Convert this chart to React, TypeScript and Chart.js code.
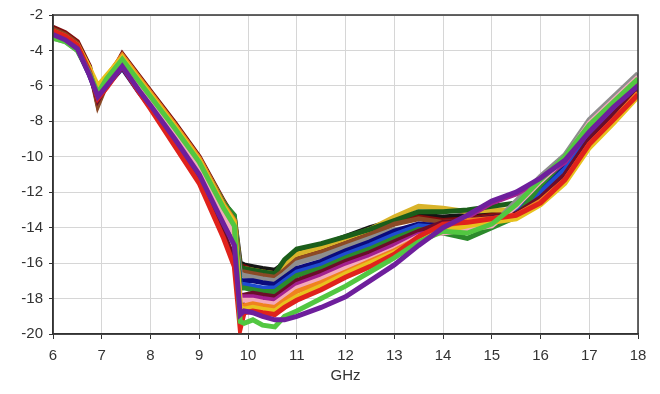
import React, { useEffect, useRef } from "react";
import { Chart, registerables } from "chart.js";

Chart.register(...registerables);

const freqGHz = [6, 6.25, 6.5, 6.75, 6.92, 7.1, 7.42, 7.75, 8, 8.5, 9, 9.5, 9.72, 9.84, 9.92, 10.1, 10.3, 10.55, 10.75, 11, 11.5, 12, 12.5, 13, 13.5, 14, 14.5, 15, 15.5, 16, 16.5, 17, 17.5, 18];

const xTicks = [6, 7, 8, 9, 10, 11, 12, 13, 14, 15, 16, 17, 18];
const yTicks = [-2, -4, -6, -8, -10, -12, -14, -16, -18, -20];
const xTitle = "GHz";

const sBlack = [-2.8, -3.1, -3.6, -5.1, -6.4, -5.7, -4.3, -5.5, -6.4, -8.2, -10.1, -12.6, -13.4, -16.0, -16.1, -16.2, -16.3, -16.4, -16.0, -15.4, -15.0, -14.5, -14.0, -13.6, -13.3, -13.4, -13.3, -13.1, -13.0, -12.2, -10.9, -8.9, -7.5, -6.2];
const sDarkGreen = [-3.0, -3.3, -3.8, -5.2, -6.3, -5.6, -4.4, -5.6, -6.5, -8.3, -10.2, -12.7, -13.8, -16.2, -16.3, -16.4, -16.5, -16.6, -15.8, -15.2, -14.9, -14.5, -14.1, -13.6, -13.1, -13.1, -13.0, -12.8, -12.6, -11.7, -10.4, -8.6, -7.2, -5.9];
const sDarkRed = [-2.7, -3.0, -3.5, -4.9, -7.0, -5.8, -4.2, -5.4, -6.3, -8.1, -10.0, -12.5, -13.5, -16.4, -16.2, -16.4, -16.5, -16.6, -16.2, -15.6, -15.2, -14.7, -14.2, -13.7, -13.4, -13.6, -13.5, -13.3, -13.1, -12.4, -11.1, -9.1, -7.7, -6.3];
const sBrown = [-2.8, -3.1, -3.6, -5.0, -7.1, -5.9, -4.3, -5.5, -6.4, -8.2, -10.1, -12.7, -13.6, -16.5, -16.5, -16.6, -16.7, -16.8, -16.4, -15.8, -15.4, -14.9, -14.4, -13.8, -13.5, -13.7, -13.6, -13.4, -13.2, -12.5, -11.2, -9.2, -7.8, -6.4];
const sGray = [-3.3, -3.5, -4.0, -5.3, -6.4, -5.6, -4.5, -5.7, -6.6, -8.4, -10.3, -12.8, -13.7, -16.6, -16.7, -16.8, -16.9, -17.0, -16.6, -16.0, -15.6, -15.1, -14.6, -14.1, -14.0, -14.3, -14.2, -13.9, -12.5, -11.1, -9.9, -7.9, -6.6, -5.3];
const sNavy = [-3.1, -3.4, -3.9, -5.4, -6.6, -6.0, -5.0, -6.3, -7.2, -9.1, -11.0, -13.6, -14.8, -17.0, -17.0, -17.0, -17.1, -17.2, -16.8, -16.3, -15.9, -15.3, -14.8, -14.2, -13.8, -13.9, -13.8, -13.6, -13.0, -11.9, -10.6, -8.7, -7.3, -6.0];
const sBlue = [-3.0, -3.3, -3.8, -5.2, -6.5, -5.8, -4.6, -5.8, -6.8, -8.6, -10.5, -13.0, -14.0, -17.2, -17.2, -17.3, -17.4, -17.4, -17.0, -16.5, -16.1, -15.5, -15.0, -14.4, -13.9, -14.0, -13.9, -13.7, -13.1, -12.0, -10.7, -8.8, -7.4, -6.1];
const sGreen = [-3.2, -3.4, -3.9, -5.2, -6.3, -5.5, -4.4, -5.6, -6.5, -8.3, -10.2, -12.6, -13.3, -17.4, -17.4, -17.5, -17.6, -17.6, -17.2, -16.7, -16.3, -15.7, -15.2, -14.6, -14.1, -14.3, -14.6, -14.0, -13.4, -11.6, -10.2, -8.4, -7.0, -5.8];
const sMaroon = [-2.9, -3.2, -3.7, -5.2, -6.8, -6.0, -4.8, -6.2, -7.2, -9.2, -11.3, -14.3, -15.8, -18.8, -17.8, -17.7, -17.8, -17.9, -17.5, -17.0, -16.5, -15.9, -15.4, -14.8, -14.2, -13.7, -13.6, -13.4, -13.2, -12.3, -11.0, -9.0, -7.6, -6.2];
const sMagenta = [-3.0, -3.3, -3.8, -5.2, -6.5, -5.8, -4.6, -5.9, -6.8, -8.7, -10.6, -13.2, -14.3, -17.9, -17.9, -17.9, -18.0, -18.1, -17.7, -17.2, -16.7, -16.1, -15.6, -15.0, -14.4, -14.1, -13.4, -12.6, -12.1, -11.3, -10.3, -8.5, -7.1, -5.9];
const sPink = [-3.1, -3.4, -3.9, -5.2, -6.6, -5.8, -4.7, -6.0, -6.9, -8.8, -10.7, -13.3, -14.4, -18.1, -18.1, -18.1, -18.2, -18.3, -17.9, -17.4, -16.9, -16.3, -15.8, -15.2, -14.5, -14.3, -14.1, -13.9, -12.8, -11.4, -10.1, -8.1, -6.8, -5.5];
const sOrange = [-2.9, -3.2, -3.7, -5.1, -6.2, -5.5, -4.3, -5.5, -6.4, -8.2, -10.1, -12.7, -13.6, -18.4, -18.4, -18.3, -18.4, -18.5, -18.1, -17.6, -17.1, -16.5, -15.9, -15.3, -14.6, -14.0, -13.6, -13.5, -13.3, -12.5, -11.3, -9.3, -7.9, -6.4];
const sYellow = [-3.0, -3.3, -3.7, -5.0, -6.0, -5.4, -4.4, -5.6, -6.5, -8.3, -10.2, -12.8, -13.7, -18.5, -18.6, -18.5, -18.6, -18.7, -18.3, -17.9, -17.3, -16.6, -16.0, -15.4, -14.7, -14.2, -13.9, -13.7, -13.5, -12.7, -11.5, -9.5, -8.1, -6.6];
const sRed = [-2.9, -3.2, -3.7, -5.2, -6.7, -6.1, -4.9, -6.3, -7.3, -9.4, -11.5, -14.6, -16.2, -19.7, -18.8, -18.7, -18.8, -18.9, -18.5, -18.1, -17.5, -16.8, -16.2, -15.5, -14.5, -13.8, -13.7, -13.5, -13.3, -12.6, -11.3, -9.3, -7.9, -6.5];
const sLightGreen = [-3.3, -3.5, -4.0, -5.3, -6.4, -5.6, -4.5, -5.7, -6.6, -8.4, -10.3, -12.9, -13.9, -19.3, -19.4, -19.2, -19.5, -19.6, -19.0, -18.7, -18.0, -17.3, -16.5, -15.7, -14.8, -14.2, -14.3, -13.8, -12.7, -11.3, -10.0, -8.2, -6.9, -5.6];
const sPurple = [-3.1, -3.4, -3.9, -5.4, -6.6, -6.0, -4.9, -6.2, -7.1, -9.0, -11.0, -13.8, -15.0, -18.9, -18.7, -18.8, -19.0, -19.2, -19.2, -19.0, -18.5, -17.9, -17.0, -16.1, -15.0, -14.0, -13.3, -12.5, -12.0, -11.2, -10.2, -8.6, -7.2, -6.0];
const sGold = [-2.9, -3.2, -3.7, -5.1, -6.1, -5.5, -4.3, -5.5, -6.4, -8.2, -10.1, -12.6, -13.5, -16.3, -16.3, -16.4, -16.5, -16.6, -16.1, -15.5, -15.1, -14.6, -14.1, -13.4, -12.8, -12.9, -13.1, -13.0, -13.0, -12.6, -11.4, -9.4, -8.0, -6.5];

const seriesList: [string, number[], string][] = [
  ["S16", sPurple, "#6e1f9c"],
  ["S15", sLightGreen, "#52c741"],
  ["S14", sRed, "#e0221c"],
  ["S13", sYellow, "#e8c21e"],
  ["S12", sOrange, "#f0821e"],
  ["S11", sPink, "#f3a9bb"],
  ["S10", sMagenta, "#a3208f"],
  ["S9", sMaroon, "#6b0d2a"],
  ["S8", sGreen, "#2b8a2b"],
  ["S7", sBlue, "#1f4cd0"],
  ["S6", sNavy, "#0b0b7c"],
  ["S5", sGray, "#8e8e8e"],
  ["S4", sBrown, "#8b4a26"],
  ["S3", sDarkGreen, "#1b5e1b"],
  ["S17", sGold, "#d9b42a"],
  ["S2", sDarkRed, "#7e0b0b"],
  ["S1", sBlack, "#151515"],
];

const frame = {
  id: "frame",
  afterDraw(chart: any) {
    const { ctx, chartArea } = chart;
    ctx.save();
    ctx.strokeStyle = "#333333";
    ctx.lineWidth = 1.5;
    ctx.strokeRect(chartArea.left, chartArea.top, chartArea.right - chartArea.left, chartArea.bottom - chartArea.top);
    ctx.restore();
  },
};

export default function App() {
  const ref = useRef<HTMLCanvasElement | null>(null);
  useEffect(() => {
    if (!ref.current) return;
    const font = { family: "'Liberation Sans', Arial, sans-serif", size: 15 };
    const chart = new Chart(ref.current, {
      type: "line",
      data: {
        datasets: seriesList.map(([label, vals, color]) => ({
          label,
          data: freqGHz.map((x, i) => ({ x, y: vals[i] })),
          borderColor: color,
          backgroundColor: color,
          borderWidth: 5,
          pointRadius: 0,
          tension: 0,
          fill: false,
        })),
      },
      options: {
        animation: false,
        responsive: false,
        maintainAspectRatio: false,
        layout: { padding: { top: 10, right: 22, left: 0, bottom: 0 } },
        plugins: { legend: { display: false }, tooltip: { enabled: false } },
        scales: {
          x: {
            type: "linear",
            min: 6,
            max: 18,
            afterBuildTicks: (s: any) => { s.ticks = xTicks.map((v) => ({ value: v })); },
            afterFit: (s: any) => { s.height = 60; },
            ticks: { color: "#333333", font, padding: 8, maxRotation: 0 },
            grid: { color: "#d6d6d6", tickColor: "#333333", tickLength: 5, lineWidth: 1 },
            border: { color: "#333333", width: 1.5 },
            title: { display: true, text: xTitle, color: "#333333", font, padding: { top: 0, bottom: 9 } },
          },
          y: {
            type: "linear",
            min: -20,
            max: -2,
            afterBuildTicks: (s: any) => { s.ticks = yTicks.map((v) => ({ value: v })); },
            afterFit: (s: any) => { s.width = 53; },
            ticks: { color: "#333333", font, padding: 6 },
            grid: { color: "#d6d6d6", tickColor: "#333333", tickLength: 4, lineWidth: 1 },
            border: { color: "#333333", width: 1.5 },
          },
        },
      },
      plugins: [frame],
    });
    return () => chart.destroy();
  }, []);
  return (
    <div style={{ position: "absolute", left: 0, top: 0, width: 660, height: 394, background: "#fff" }}>
      <canvas ref={ref} width={660} height={394} style={{ display: "block" }} />
    </div>
  );
}
